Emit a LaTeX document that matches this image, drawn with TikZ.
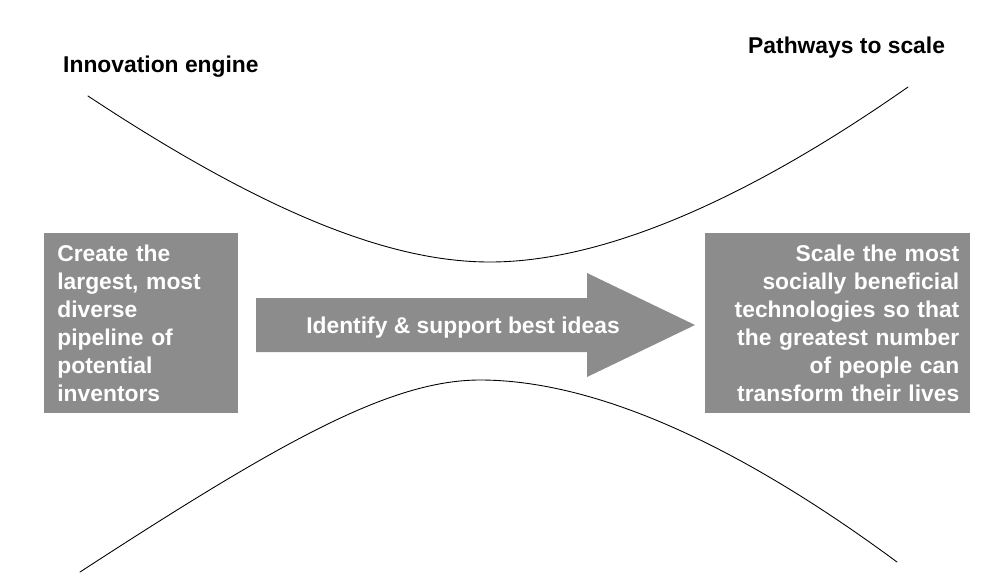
\documentclass[tikz,border=0pt]{standalone}
\usepackage{fontspec}
\setmainfont{Liberation Sans}
\definecolor{boxgray}{RGB}{140,140,140}
\begin{document}
\begin{tikzpicture}[x=0.02cm,y=-0.02cm, font=\bfseries\fontsize{13}{16}\selectfont, line join=round, line cap=round]
	\tikzset{graybox/.style={fill=boxgray, text=white, inner ysep=0pt, anchor=north west, minimum height=3.6cm}}
	\useasboundingbox (0,0) rectangle (999,582);
	% Tieu de
	\node[anchor=base west] (engine) at (57,72) {Innovation engine};
	\node[anchor=base west] (pathways) at (742,53) {Pathways to scale};
	% Hai duong cong
	\draw[line width=.5pt] (88,96) .. controls (280,223) and (400,262) .. (490,262)
		.. controls (590,262) and (728,213) .. (908,87);
	\draw[line width=.5pt] (80,572) .. controls (280,442) and (390,380) .. (480,380)
		.. controls (580,380) and (717,429) .. (897,562);
	% Khoi trai, khoi phai
	\node[graybox, inner xsep=0.26cm, text width=3.36cm, align=left] (create) at (44,233)
		{Create the\\ largest, most\\ diverse\\ pipeline of\\ potential\\ inventors};
	\node[graybox, inner xsep=0.22cm, text width=4.86cm, align=right] (scaleup) at (705,233)
		{Scale the most\\ socially beneficial\\ technologies so that\\ the greatest number\\ of people can\\ transform their lives};
	% Mui ten
	\fill[boxgray] (256,298)--(587,298)--(587,273)--(695,325)--(587,377)--(587,352)--(256,352)--cycle;
	\node[anchor=base, text=white] (ideas) at (463,333) {Identify \& support best ideas};
\end{tikzpicture}
\end{document}
